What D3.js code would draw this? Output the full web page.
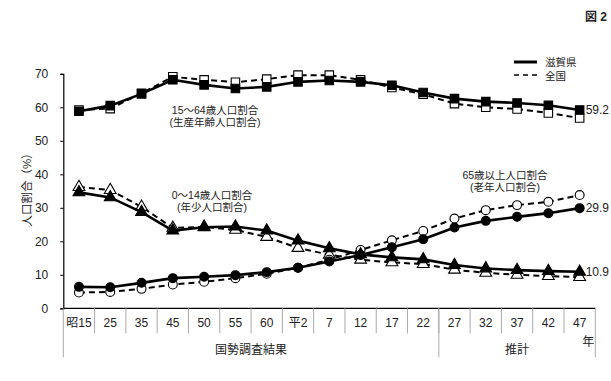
<!DOCTYPE html>
<html>
<head>
<meta charset="utf-8">
<script src="https://cdn.jsdelivr.net/npm/d3@7"></script>
<style>
  body { margin: 0; background: #fff; }
  svg text { font-family: "Liberation Sans", "Noto Sans CJK JP", sans-serif; fill: #222; }
</style>
</head>
<body>
<svg id="chart" width="611" height="381"></svg>
<script>
let categories = ['昭15', '25', '35', '45', '50', '55', '60', '平2', '7', '12', '17', '22', '27', '32', '37', '42', '47'];
let yTicks = [0, 10, 20, 30, 40, 50, 60, 70];

// 15～64歳
let shiga_15_64   = [58.8, 60.5, 64.0, 68.2, 66.7, 65.6, 66.1, 67.6, 68.0, 67.6, 66.6, 64.4, 62.6, 61.7, 61.3, 60.6, 59.2];
let zenkoku_15_64 = [59.2, 59.6, 64.2, 69.1, 68.2, 67.5, 68.4, 69.6, 69.6, 68.2, 65.9, 63.9, 61.1, 60.0, 59.5, 58.3, 56.8];
// 0～14歳
let shiga_0_14    = [34.6, 33.1, 28.7, 23.2, 24.2, 24.4, 23.2, 20.2, 17.9, 16.1, 15.2, 14.6, 12.9, 11.9, 11.4, 11.1, 10.9];
let zenkoku_0_14  = [36.2, 35.3, 30.3, 24.0, 24.3, 23.4, 21.3, 18.0, 16.0, 14.5, 13.7, 13.2, 11.5, 10.6, 10.0, 9.6, 9.3];
// 65歳以上
let shiga_65      = [6.4, 6.3, 7.6, 9.0, 9.4, 9.9, 10.8, 12.1, 14.0, 15.9, 18.2, 20.6, 24.1, 26.1, 27.3, 28.4, 29.9];
let zenkoku_65    = [4.7, 4.9, 5.8, 7.1, 7.9, 9.0, 10.3, 12.1, 14.5, 17.4, 20.3, 23.1, 26.8, 29.3, 30.8, 31.8, 33.8];

let svg = d3.select('#chart');

let plotLeft = 63.3, plotRight = 595.3, plotTop = 73.8, plotBottom = 308.3;

let x = d3.scaleBand()
	.domain(categories)
	.range([plotLeft, plotRight])
	.padding(0);

let y = d3.scaleLinear()
	.domain([0, 70])
	.range([plotBottom, plotTop]);

let cx = c => x(c) + x.bandwidth() / 2;

// y axis
let yAxis = d3.axisLeft(y).tickValues(yTicks).tickSize(3).tickPadding(12);
let gy = svg.append('g')
	.attr('transform', 'translate(' + plotLeft + ',0)')
	.call(yAxis);
gy.select('.domain').attr('stroke', '#000').attr('stroke-width', 1.2);
gy.selectAll('.tick line').attr('stroke', '#000');
gy.selectAll('.tick text').attr('font-size', 12).attr('fill', '#222');

// x axis line
svg.append('line')
	.attr('x1', plotLeft).attr('x2', plotRight)
	.attr('y1', plotBottom).attr('y2', plotBottom)
	.attr('stroke', '#000').attr('stroke-width', 1.2);

// category separators
categories.forEach(function(c, i) {
	if (i === 0) return;
	svg.append('line')
		.attr('x1', x(c)).attr('x2', x(c))
		.attr('y1', plotBottom).attr('y2', plotBottom + 25)
		.attr('stroke', '#aaa').attr('stroke-width', 1);
});

// long group separators
[plotLeft, x('27'), plotRight].forEach(function(px) {
	svg.append('line')
		.attr('x1', px).attr('x2', px)
		.attr('y1', plotBottom).attr('y2', plotBottom + 49)
		.attr('stroke', '#aaa').attr('stroke-width', 1);
});

svg.selectAll('.xlabel')
	.data(categories)
	.enter()
	.append('text')
	.attr('class', 'xlabel')
	.attr('x', d => cx(d))
	.attr('y', plotBottom + 19)
	.attr('text-anchor', 'middle')
	.attr('font-size', 12)
	.text(d => d);

svg.append('text')
	.attr('x', (plotLeft + x('27')) / 2).attr('y', plotBottom + 46)
	.attr('text-anchor', 'middle').attr('font-size', 12)
	.text('国勢調査結果');

svg.append('text')
	.attr('x', (x('27') + plotRight) / 2).attr('y', plotBottom + 46)
	.attr('text-anchor', 'middle').attr('font-size', 12)
	.text('推計');

svg.append('text')
	.attr('x', plotRight - 1).attr('y', plotBottom + 38)
	.attr('text-anchor', 'end').attr('font-size', 12)
	.text('年');

// y axis title
svg.append('text')
	.attr('transform', 'translate(31,187) rotate(-90)')
	.attr('text-anchor', 'middle').attr('font-size', 11.5)
	.text('人口割合（%）');

// figure number
svg.append('text')
	.attr('x', 607).attr('y', 21)
	.attr('text-anchor', 'end').attr('font-size', 12).attr('font-weight', 'bold')
	.text('図 2');

// lines
let line = d3.line()
	.x((d, i) => cx(categories[i]))
	.y(d => y(d));

function drawLine(values, dashed) {
	svg.append('path')
		.datum(values)
		.attr('fill', 'none')
		.attr('stroke', '#000')
		.attr('stroke-width', dashed ? 2 : 2.6)
		.attr('stroke-dasharray', dashed ? '6,4' : null)
		.attr('d', line);
}

function drawMarkers(values, shape, filled) {
	let sym = d3.symbol().type(shape).size(shape === d3.symbolCircle ? 62 : (shape === d3.symbolTriangle ? 60 : 72));
	svg.append('g')
		.selectAll('path')
		.data(values)
		.enter()
		.append('path')
		.attr('transform', (d, i) => 'translate(' + cx(categories[i]) + ',' + y(d) + ')')
		.attr('d', sym)
		.attr('fill', filled ? '#000' : '#fff')
		.attr('stroke', '#000')
		.attr('stroke-width', 1.1);
}

drawLine(zenkoku_15_64, true);
drawLine(zenkoku_0_14, true);
drawLine(zenkoku_65, true);
drawMarkers(zenkoku_15_64, d3.symbolSquare, false);
drawMarkers(zenkoku_0_14, d3.symbolTriangle, false);
drawMarkers(zenkoku_65, d3.symbolCircle, false);

drawLine(shiga_15_64, false);
drawLine(shiga_0_14, false);
drawLine(shiga_65, false);
drawMarkers(shiga_15_64, d3.symbolSquare, true);
drawMarkers(shiga_0_14, d3.symbolTriangle, true);
drawMarkers(shiga_65, d3.symbolCircle, true);

// end value labels
let last = categories.length - 1;
[shiga_15_64, shiga_65, shiga_0_14].forEach(function(s) {
	svg.append('text')
		.attr('x', cx(categories[last]) + 6)
		.attr('y', y(s[last]) + 4)
		.attr('font-size', 12)
		.text(s[last].toFixed(1));
});

// series annotations
let notes = [
	{ x: 215, y: 110, lines: ['15～64歳人口割合', '(生産年齢人口割合)'] },
	{ x: 212, y: 195, lines: ['0～14歳人口割合', '(年少人口割合)'] },
	{ x: 505, y: 175, lines: ['65歳以上人口割合', '(老年人口割合)'] }
];
notes.forEach(function(n) {
	n.lines.forEach(function(t, i) {
		svg.append('text')
			.attr('x', n.x).attr('y', n.y + 4 + i * 12)
			.attr('text-anchor', 'middle').attr('font-size', 10.5)
			.text(t);
	});
});

// legend
let legend = svg.append('g');
legend.append('line')
	.attr('x1', 514).attr('x2', 537).attr('y1', 62).attr('y2', 62)
	.attr('stroke', '#000').attr('stroke-width', 3);
legend.append('line')
	.attr('x1', 514).attr('x2', 537).attr('y1', 75).attr('y2', 75)
	.attr('stroke', '#000').attr('stroke-width', 1.5).attr('stroke-dasharray', '5,4');
legend.append('text').attr('x', 545).attr('y', 66).attr('font-size', 10.5).text('滋賀県');
legend.append('text').attr('x', 545).attr('y', 80).attr('font-size', 10.5).text('全国');
</script>
</body>
</html>
